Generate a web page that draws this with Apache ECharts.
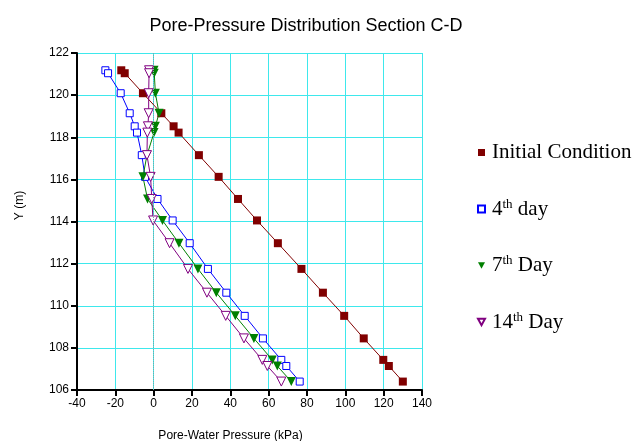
<!DOCTYPE html>
<html>
<head>
    <meta charset="utf-8">
    <script type="text/javascript" src="https://cdn.jsdelivr.net/npm/echarts@6/dist/echarts.min.js"></script>
    <style type="text/css">
        *{
            margin: 0;
            padding: 0;
        }
        #main{
            width: 635px;
            height: 441px;
        }
    </style>
</head>
<body>
<div id="main"></div>
<script type="text/javascript">
    // elevation of the nodes (m)
    var elevation = [121.18, 121.04, 120.09, 119.14, 118.52, 118.22, 117.15, 116.12, 115.07, 114.05,
        112.97, 111.75, 110.62, 109.52, 108.45, 107.43, 107.14, 106.4];
    // pore-water pressure (kPa)
    var initialCond = [-16.9, -15.1, -5.6, 4.0, 10.4, 13.0, 23.6, 33.9, 44.0, 53.9,
        64.8, 77.1, 88.3, 99.4, 109.6, 119.8, 122.7, 130.0];
    var day4 = [-25.2, -23.8, -17.2, -12.5, -9.9, -8.7, -6.2, -4.5, 2.0, 9.9,
        18.8, 28.3, 37.9, 47.5, 57.0, 66.6, 69.2, 76.2];
    var day7 = [0.2, 0.3, 0.9, 2.8, 0.9, 0.2, -3.5, -5.6, -3.2, 4.6,
        13.2, 23.1, 32.7, 42.6, 52.3, 61.9, 64.5, 71.8];
    var day14 = [-2.4, -2.4, -2.6, -2.6, -3.0, -3.3, -3.5, -1.6, -1.0, -0.3,
        8.3, 17.9, 27.8, 37.6, 47.1, 56.7, 59.3, 66.6];
    var xTicks = {min: -40, max: 140, step: 20};
    var yTicks = {min: 106, max: 122, step: 2};

    function pairs(xs) {
        return xs.map(function (v, i) { return [v, elevation[i]]; });
    }

    var downTri = 'path://M0,0L10,0L5,9Z';

    var myChart = echarts.init(document.getElementById('main'));
    var option = {
        animation: false,
        title: {
            text: 'Pore-Pressure Distribution Section C-D',
            left: 301,
            textAlign: 'center',
            top: 12,
            textStyle: {
                fontFamily: 'Liberation Sans',
                fontSize: 18,
                fontWeight: 'normal',
                color: '#000'
            }
        },
        grid: {
            left: 77,
            right: 213,
            top: 53,
            bottom: 51,
            outerBoundsMode: 'none',
            containLabel: false
        },
        legend: {
            orient: 'vertical',
            left: 472,
            top: 137,
            itemWidth: 7,
            itemHeight: 7,
            itemGap: 35,
            data: [
                {name: 'Initial Condition', icon: 'rect'},
                {name: '4th day', icon: 'rect'},
                {name: '7th Day', icon: downTri},
                {name: '14th Day', icon: downTri}
            ],
            formatter: function (name) {
                var m = name.match(/^(\d+)th(.*)$/);
                if (m) {
                    return '{n|' + m[1] + '}{s|th}{n|' + m[2] + '}';
                }
                return '{n|' + name + '}';
            },
            textStyle: {
                fontFamily: 'Liberation Serif',
                fontSize: 21,
                color: '#000',
                padding: [0, 0, 0, 2],
                rich: {
                    n: {
                        fontFamily: 'Liberation Serif',
                        fontSize: 21,
                        lineHeight: 22,
                        color: '#000'
                    },
                    s: {
                        fontFamily: 'Liberation Serif',
                        fontSize: 13,
                        lineHeight: 22,
                        verticalAlign: 'top',
                        color: '#000'
                    }
                }
            }
        },
        xAxis: {
            type: 'value',
            min: xTicks.min,
            max: xTicks.max,
            interval: xTicks.step,
            name: 'Pore-Water Pressure (kPa)',
            nameLocation: 'middle',
            nameGap: 40,
            nameTextStyle: {
                fontFamily: 'Liberation Sans',
                fontSize: 12,
                color: '#000',
                padding: [0, 38, 0, 0]
            },
            axisLine: {
                onZero: false,
                lineStyle: {color: '#000', width: 2}
            },
            axisTick: {
                length: 6,
                lineStyle: {color: '#000', width: 2}
            },
            axisLabel: {
                fontFamily: 'Liberation Sans',
                fontSize: 12,
                color: '#000',
                margin: 8
            },
            splitLine: {
                show: true,
                lineStyle: {color: '#3ee8ec', width: 1}
            }
        },
        yAxis: {
            type: 'value',
            min: yTicks.min,
            max: yTicks.max,
            interval: yTicks.step,
            name: 'Y (m)',
            nameLocation: 'middle',
            nameGap: 51,
            nameTextStyle: {
                fontFamily: 'Liberation Sans',
                fontSize: 12,
                color: '#000',
                padding: [0, 0, 0, 32]
            },
            axisLine: {
                onZero: false,
                lineStyle: {color: '#000', width: 2}
            },
            axisTick: {
                length: 6,
                lineStyle: {color: '#000', width: 2}
            },
            axisLabel: {
                fontFamily: 'Liberation Sans',
                fontSize: 12,
                color: '#000',
                margin: 8
            },
            splitLine: {
                show: true,
                lineStyle: {color: '#3ee8ec', width: 1}
            }
        },
        series: [
            {
                name: 'Initial Condition',
                type: 'line',
                data: pairs(initialCond),
                symbol: 'rect',
                symbolSize: 8,
                itemStyle: {color: '#800000'},
                lineStyle: {color: '#800000', width: 1},
                markLine: {
                    silent: true,
                    symbol: 'none',
                    label: {show: false},
                    lineStyle: {color: '#7aa8a8', type: 'dotted', width: 1},
                    data: [{xAxis: 0}]
                }
            },
            {
                name: '4th day',
                type: 'line',
                data: pairs(day4),
                symbol: 'rect',
                symbolSize: 7,
                itemStyle: {color: '#ffffff', borderColor: '#0000ff', borderWidth: 1},
                lineStyle: {color: '#0000ff', width: 1}
            },
            {
                name: '7th Day',
                type: 'line',
                data: pairs(day7),
                symbol: downTri,
                symbolSize: 9,
                itemStyle: {color: '#008000'},
                lineStyle: {color: '#008000', width: 1}
            },
            {
                name: '14th Day',
                type: 'line',
                data: pairs(day14),
                symbol: downTri,
                symbolSize: 9,
                itemStyle: {color: '#ffffff', borderColor: '#800080', borderWidth: 1},
                lineStyle: {color: '#800080', width: 1}
            }
        ]
    };
    myChart.setOption(option);
</script>
</body>
</html>
